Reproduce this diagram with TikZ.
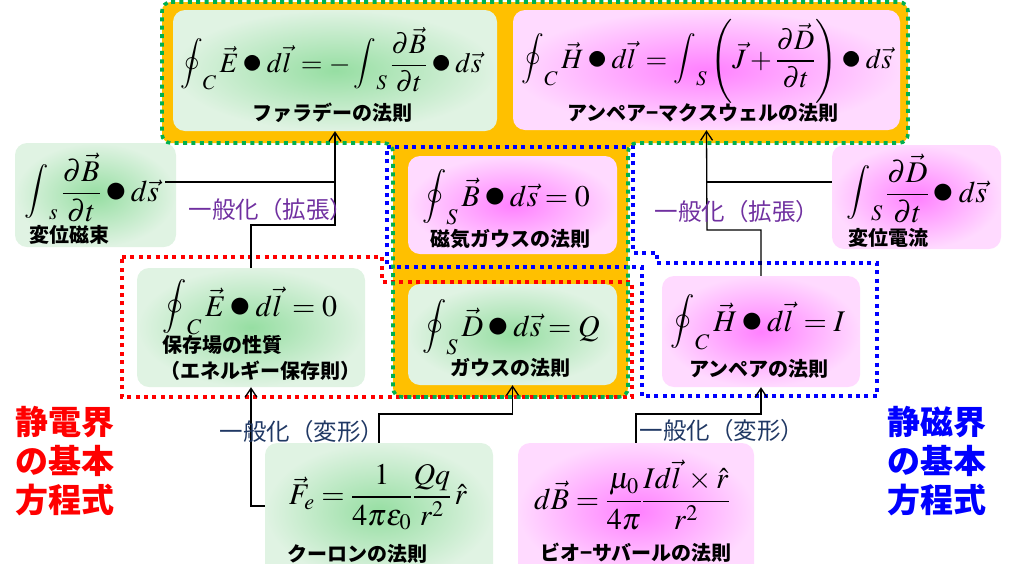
\documentclass[tikz,border=0pt]{standalone}
\usepackage{mathptmx}
\usepackage[no-math]{fontspec}
\newfontfamily\jp{Noto Sans CJK JP}
\usetikzlibrary{arrows.meta}
\definecolor{orng}{RGB}{255,192,0}
\definecolor{dgreen}{RGB}{0,176,80}
\definecolor{gin}{RGB}{150,222,162}
\definecolor{gout}{RGB}{224,243,227}
\definecolor{pin}{RGB}{255,128,255}
\definecolor{pout}{RGB}{255,218,255}
\definecolor{purp}{RGB}{112,48,160}
\definecolor{navy}{RGB}{32,56,100}
\definecolor{bblue}{RGB}{0,0,255}
\newcommand\bdot{\mathbin{\raisebox{-0.12ex}{\scalebox{1.45}{$\bullet$}}}}
\newcommand\Oint{\mathop{\raisebox{0.1em}{\scalebox{0.9}{$\displaystyle\oint$}}}\nolimits}
\newcommand\Int{\mathop{\raisebox{0.1em}{\scalebox{0.9}{$\displaystyle\int$}}}\nolimits}
\tikzset{
  gbox/.style={rounded corners=12pt, inner color=gin, outer color=gout, inner sep=0pt},
  pbox/.style={rounded corners=12pt, inner color=pin, outer color=pout, inner sep=0pt},
  eq/.style={inner sep=0pt, font=\fontsize{30}{34}\selectfont},
  eqs/.style={inner sep=0pt, font=\fontsize{28}{32}\selectfont},
  lab/.style={inner sep=0pt, font=\jp\bfseries\fontsize{20}{24}\selectfont},
  gen/.style={inner sep=0pt, font=\jp\fontsize{23.5}{27}\selectfont},
  big/.style={inner sep=0pt, align=center, font=\jp\bfseries\fontsize{33}{39}\selectfont},
  dots/.style={line width=3.6pt, dash pattern=on 4pt off 4.4pt},
  conn/.style={line width=1.3pt, black},
  arr/.style={conn, -{Straight Barb[length=9pt,width=12pt,line width=1.3pt]}}
}
\begin{document}
\begin{tikzpicture}[x=1pt,y=-1pt]
\useasboundingbox (0,0) rectangle (1009,563);
% orange background region
\fill[orng, rounded corners=9pt] (162,2) -- (908,2) -- (908,143) -- (628,143) -- (628,397) -- (393,397) -- (393,143) -- (162,143) -- cycle;

% boxes
\node[gbox, minimum width=324pt, minimum height=121pt] (far) at (335,70.5) {};
\node[pbox, minimum width=387pt, minimum height=120pt] (amx) at (706.5,70) {};
\node[gbox, minimum width=161pt, minimum height=104pt] (dphi) at (95.5,195) {};
\node[pbox, minimum width=169pt, minimum height=104pt] (dD) at (916.5,197) {};
\node[pbox, minimum width=209pt, minimum height=98pt] (gaussB) at (512.5,205) {};
\node[gbox, minimum width=209pt, minimum height=101pt] (gauss) at (512.5,334.5) {};
\node[gbox, minimum width=228pt, minimum height=119pt] (cons) at (251,327.5) {};
\node[pbox, minimum width=198pt, minimum height=111pt] (amp) at (761,331.5) {};
\node[gbox, minimum width=228pt, minimum height=137pt] (coul) at (379,511.5) {};
\node[pbox, minimum width=236pt, minimum height=137pt] (biot) at (636,511.5) {};

% dotted groupings
\draw[red, dots] (122,257) -- (382,257) -- (382,282) -- (632,282) -- (632,397) -- (122,397) -- cycle;
\draw[bblue, dots] (387,147) -- (633,147) -- (633,253) -- (657,253) -- (657,263) -- (877,263) -- (877,396) -- (642,396) -- (642,267) -- (387,267) -- cycle;
\draw[dgreen, dots, rounded corners=9pt] (162,2) -- (908,2) -- (908,143) -- (628,143) -- (628,397) -- (393,397) -- (393,143) -- (162,143) -- cycle;

% equations
\node[eqs] (efar) at (331,60) {$\displaystyle\Oint_C \vec{E}\bdot d\vec{l}\, = -\Int_S \frac{\partial \vec{B}}{\partial t}\bdot d\vec{s}$};
\node[eqs] (eamx) at (707,61) {$\displaystyle\Oint_C \vec{H}\bdot d\vec{l}\, = \Int_S \left(\vec{J}+\frac{\partial \vec{D}}{\partial t}\right)\bdot d\vec{s}$};
\node[eq] (edphi) at (92,188) {$\displaystyle\Int_s \frac{\partial \vec{B}}{\partial t}\bdot d\vec{s}$};
\node[eq] (edD) at (917,189) {$\displaystyle\Int_S \frac{\partial \vec{D}}{\partial t}\bdot d\vec{s}$};
\node[eq] (egB) at (506,197) {$\displaystyle\Oint_S \vec{B}\bdot d\vec{s}=0$};
\node[eq] (eg) at (511,327) {$\displaystyle\Oint_S \vec{D}\bdot d\vec{s}=Q$};
\node[eq] (econs) at (250,307) {$\displaystyle\Oint_C \vec{E}\bdot d\vec{l}\, =0$};
\node[eq] (eamp) at (758,322) {$\displaystyle\Oint_C \vec{H}\bdot d\vec{l}\, =I$};
\node[eq] (ecoul) at (378,497) {$\displaystyle\vec{F}_e=\frac{1}{4\pi\varepsilon_0}\frac{Qq}{r^2}\,\hat{r}$};
\node[eq] (ebiot) at (632,495) {$\displaystyle d\vec{B}=\frac{\mu_0}{4\pi}\frac{Id\vec{l}\,\times\hat{r}}{r^2}$};

% box labels
\node[lab] (lfar) at (332,113) {ファラデーの法則};
\node[lab] (lamx) at (703,113) {アンペア−マクスウェルの法則};
\node[lab] (ldphi) at (69,235) {変位磁束};
\node[lab] (ldD) at (888,238) {変位電流};
\node[lab] (lgB) at (510,239) {磁気ガウスの法則};
\node[lab] (lg) at (510,368) {ガウスの法則};
\node[lab, anchor=west] (lcons1) at (162,345) {保存場の性質};
\node[lab, anchor=west] (lcons2) at (160,371) {（エネルギー保存則）};
\node[lab] (lamp) at (759,369) {アンペアの法則};
\node[lab] (lcoul) at (357,554) {クーロンの法則};
\node[lab] (lbiot) at (636,553) {ビオ−サバールの法則};

% connectors
\coordinate (j1) at (335,225);
\coordinate (j3) at (707,230);
\coordinate (j4) at (512.5,414);
\coordinate (j5) at (761,414);
\draw[arr] (cons.north) |- (j1) -- (far.south);
\draw[conn] ([xshift=-11pt,yshift=13pt]dphi.east) -- (far.south |- 0,182);
\draw[arr] (amp.north) |- (j3) -- (amx.south);
\draw[conn] ([yshift=15pt]dD.west) -- (amx.south |- 0,182);
\draw[arr] ([yshift=5.5pt]coul.west) -| (cons.south);
\draw[arr] (coul.north) |- (j4) -- (gauss.south);
\draw[arr] (biot.north) |- (j5) -- (amp.south);

% generalisation labels
\node[gen, text=purp] (g1) at (271,210) {一般化（拡張）};
\node[gen, text=purp] (g2) at (737,212) {一般化（拡張）};
\node[gen, text=navy] (g3) at (302,432) {一般化（変形）};
\node[gen, text=navy] (g4) at (722,431) {一般化（変形）};

% big side labels
\node[big, text=red] (se) at (65,461) {静電界\\の基本\\方程式};
\node[big, text=bblue] (sm) at (937,461) {静磁界\\の基本\\方程式};
\end{tikzpicture}
\end{document}
